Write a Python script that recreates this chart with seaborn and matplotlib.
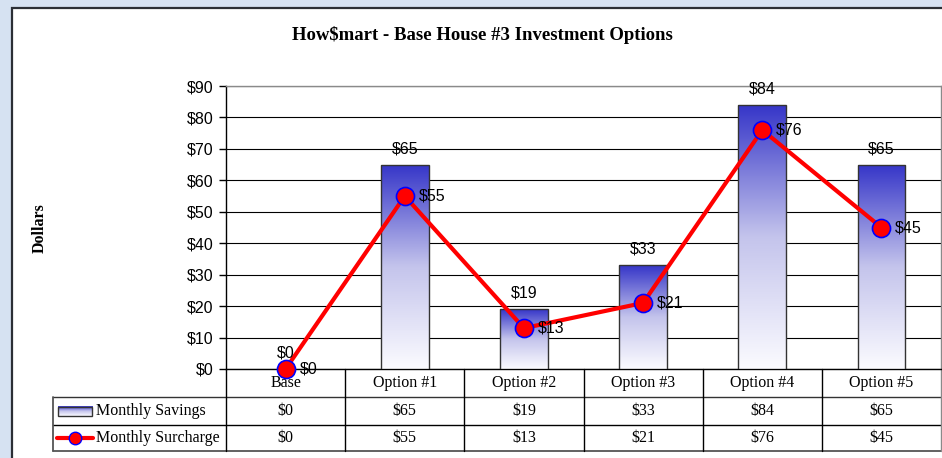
import numpy as np
import pandas as pd
import matplotlib
matplotlib.use("Agg")
import matplotlib.pyplot as plt
import seaborn as sns
from matplotlib.colors import LinearSegmentedColormap
from matplotlib.patches import Rectangle
from matplotlib.lines import Line2D

# chart data
categories = ["Base", "Option #1", "Option #2", "Option #3", "Option #4", "Option #5"]
monthly_savings = [0, 65, 19, 33, 84, 65]
monthly_surcharge = [0, 55, 13, 21, 76, 45]
yticks = [0, 10, 20, 30, 40, 50, 60, 70, 80, 90]

sns.set_style("white")
plt.rcParams['font.family'] = ['Liberation Sans', 'DejaVu Sans']
plt.rcParams['text.color'] = 'black'
plt.rcParams['ytick.color'] = 'black'
plt.rcParams['xtick.color'] = 'black'
serif = ['Liberation Serif', 'DejaVu Serif']

df = pd.DataFrame({'option': categories, 'savings': monthly_savings,
                   'surcharge': monthly_surcharge})

fig = plt.figure(figsize=(9.42, 4.58), dpi=100)
fig.patch.set_facecolor('#D6E2F2')
# white chart frame
fig.add_artist(Rectangle((12 / 942, -0.1), 1.0, 1 - 8 / 458 + 0.1, transform=fig.transFigure,
                         facecolor='white', edgecolor='#2b2f36', lw=1.6, zorder=-5))

ax = fig.add_axes([226 / 942, 1 - 369 / 458, 715 / 942, 283 / 458])

sns.barplot(data=df, x='option', y='savings', ax=ax, width=0.40, color='#3a3acc',
            edgecolor='#333333', linewidth=1.0, zorder=3)

# gradient fill for the bars
blue_cmap = LinearSegmentedColormap.from_list('bl', ['#fbfbff', '#c4c4ec', '#3535c8'])
grad = np.linspace(0, 1, 256).reshape(-1, 1)
for p in ax.patches:
    x0, w, h = p.get_x(), p.get_width(), p.get_height()
    if h <= 0:
        p.set_visible(False)
        continue
    im = ax.imshow(grad, extent=[x0, x0 + w, 0, h], origin='lower', aspect='auto',
                   cmap=blue_cmap, zorder=2.9)
    im.set_clip_path(p)
    p.set_facecolor('none')

sns.lineplot(x=list(range(len(categories))), y=monthly_surcharge, ax=ax, color='red', lw=3,
             marker='o', markersize=13, markerfacecolor='red', markeredgecolor='blue',
             markeredgewidth=1.2, zorder=5, clip_on=False)

# value labels
for i, v in enumerate(monthly_savings):
    ax.annotate(f"${v}", (i, v), xytext=(0, 6), textcoords='offset points',
                ha='center', va='bottom', fontsize=11.5, zorder=6)
for i, v in enumerate(monthly_surcharge):
    ax.annotate(f"${v}", (i, v), xytext=(10, 0), textcoords='offset points',
                ha='left', va='center', fontsize=11.5, zorder=6)

ax.set_xlim(-0.5, len(categories) - 0.5)
ax.set_ylim(0, 90)
ax.set_yticks(yticks)
ax.set_yticklabels([f"${t}" for t in yticks], fontsize=11.5)
ax.set_xticks([])
ax.set_xlabel('')
ax.set_ylabel('')
ax.tick_params(axis='y', left=True, length=5, width=1, color='black', pad=4)
ax.yaxis.grid(True, color='black', lw=0.8)
ax.set_axisbelow(True)
for s in ['left', 'bottom']:
    ax.spines[s].set_color('black')
    ax.spines[s].set_linewidth(1)
for s in ['top', 'right']:
    ax.spines[s].set_color('#8a8a8a')
    ax.spines[s].set_linewidth(1)
ax.get_legend() and ax.get_legend().remove()

# data table below the axes
n = len(categories)
row_b = [-0.099, -0.198, -0.290]
left_x = -0.242
def tline(xs, ys, c='black', lw=1):
    ax.add_line(Line2D(xs, ys, transform=ax.transAxes, color=c, lw=lw, clip_on=False))

tline([left_x, 1], [row_b[0]] * 2, c='#333333')
tline([left_x, 1], [row_b[1]] * 2)
tline([left_x, 1], [row_b[2]] * 2, c='#555555', lw=1.3)
tline([left_x, left_x], [row_b[0], row_b[2]], c='#555555', lw=1.3)
for k in range(n + 1):
    c = '#8a8a8a' if k == n else 'black'
    tline([k / n, k / n], [0, row_b[2]], c=c)

row_c = [-0.0495, -0.148, -0.244]
for i, cat in enumerate(categories):
    xa = (i + 0.5) / n
    ax.text(xa, row_c[0], cat, transform=ax.transAxes, ha='center', va='center',
            fontsize=11.5, family=serif)
    ax.text(xa, row_c[1], f"${monthly_savings[i]}", transform=ax.transAxes, ha='center',
            va='center', fontsize=11.5, family=serif)
    ax.text(xa, row_c[2], f"${monthly_surcharge[i]}", transform=ax.transAxes, ha='center',
            va='center', fontsize=11.5, family=serif)

# legend keys inside the table
sw = ax.imshow(grad[::-1], extent=[-0.235, -0.187, -0.166, -0.134], transform=ax.transAxes,
               cmap=blue_cmap, aspect='auto', clip_on=False, zorder=4)
ax.add_patch(Rectangle((-0.235, -0.166), 0.048, 0.032, transform=ax.transAxes,
                       facecolor='none', edgecolor='#333333', lw=1, clip_on=False, zorder=5))
ax.add_line(Line2D([-0.236, -0.186], [row_c[2]] * 2, transform=ax.transAxes, color='red',
                   lw=3, clip_on=False, zorder=5))
ax.add_line(Line2D([-0.211], [row_c[2]], transform=ax.transAxes, marker='o', markersize=9,
                   markerfacecolor='red', markeredgecolor='blue', markeredgewidth=1,
                   clip_on=False, zorder=6))
ax.text(-0.182, row_c[1], "Monthly Savings", transform=ax.transAxes, ha='left', va='center',
        fontsize=11.5, family=serif)
ax.text(-0.182, row_c[2], "Monthly Surcharge", transform=ax.transAxes, ha='left', va='center',
        fontsize=11.5, family=serif)
ax.set_xlim(-0.5, len(categories) - 0.5)
ax.set_ylim(0, 90)

fig.text(482 / 942, 1 - 35 / 458, "How$mart - Base House #3 Investment Options",
         ha='center', va='center', fontsize=13.5, fontweight='bold', family=serif)
fig.text(40 / 942, 1 - 228 / 458, "Dollars", rotation=90, ha='center', va='center',
         fontsize=11.5, fontweight='bold', family=serif)

fig.savefig("out.png", dpi=100, facecolor=fig.get_facecolor())
